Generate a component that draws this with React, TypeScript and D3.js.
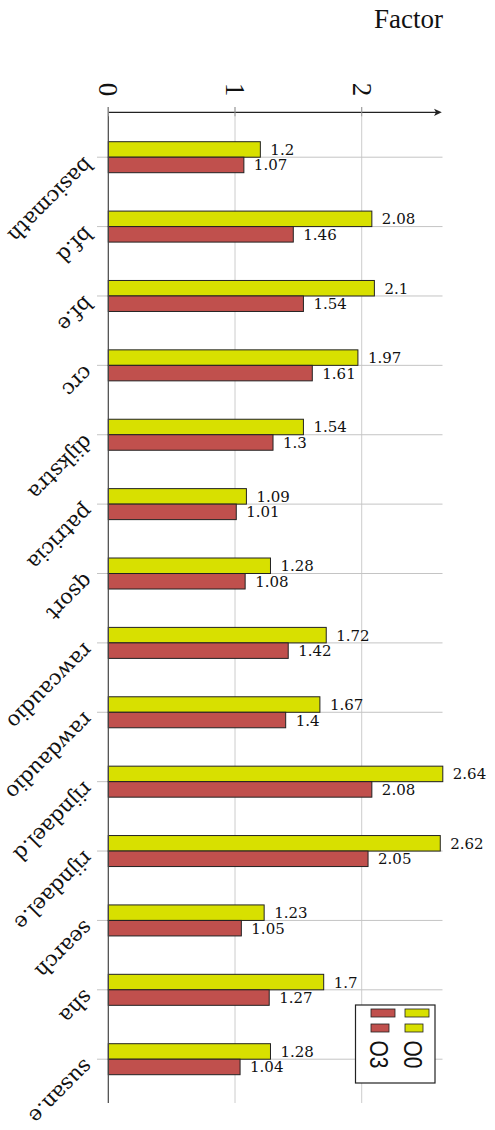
import React from "react";
import * as d3 from "d3";

const categories = ["basicmath", "bf.d", "bf.e", "crc", "dijkstra", "patricia", "qsort", "rawcaudio", "rawdaudio", "rijndael.d", "rijndael.e", "search", "sha", "susan.e"];
const o0Values = [1.2, 2.08, 2.1, 1.97, 1.54, 1.09, 1.28, 1.72, 1.67, 2.64, 2.62, 1.23, 1.7, 1.28];
const o3Values = [1.07, 1.46, 1.54, 1.61, 1.3, 1.01, 1.08, 1.42, 1.4, 2.08, 2.05, 1.05, 1.27, 1.04];
const xTicks = [0, 1, 2];
const seriesNames = ["O3", "O0"];
const seriesColors = ["#c0504d", "#d8e000"];

const W = 495;
const H = 1130;

export default function App() {
  const x = d3.scaleLinear().domain([0, 2.64]).range([108.3, 442.8]);
  const y = d3.scalePoint<string>().domain(categories).range([157.2, 1059.2]);
  const barH = 15.5;
  const x0 = x(0);
  const axisY = 112.3;
  const gridTop = 107;
  const bottom = 1103;
  const gridRight = 442.5;
  const fmt = (v: number) => String(v);

  return (
    <svg width={W} height={H} style={{ position: "absolute", left: 0, top: 0, display: "block", background: "#fff" }}>
      {/* title */}
      <text x={443} y={28} textAnchor="end" fontFamily="Liberation Serif" fontSize={27} fill="#111">Factor</text>

      {/* vertical grid lines */}
      {xTicks.filter(t => t > 0).map(t => (
        <line key={"vg" + t} x1={x(t)} x2={x(t)} y1={gridTop} y2={bottom} stroke="#cccccc" strokeWidth={1} />
      ))}
      {/* horizontal category grid lines */}
      {categories.map(c => (
        <line key={"hg" + c} x1={97} x2={gridRight} y1={y(c)!} y2={y(c)!} stroke="#c4c4c4" strokeWidth={1} />
      ))}

      {/* bars */}
      {categories.map((c, i) => {
        const cy = y(c)!;
        return (
          <g key={"b" + c}>
            <rect x={x0} y={cy - barH} width={x(o0Values[i]) - x0} height={barH} fill={seriesColors[1]} stroke="#222" strokeWidth={1} />
            <rect x={x0} y={cy} width={x(o3Values[i]) - x0} height={barH} fill={seriesColors[0]} stroke="#222" strokeWidth={1} />
            <text x={x(o0Values[i]) + 10} y={cy - barH / 2 + 5.5} fontFamily="DejaVu Serif" fontSize={15} fill="#111">{fmt(o0Values[i])}</text>
            <text x={x(o3Values[i]) + 10} y={cy + barH / 2 + 5.5} fontFamily="DejaVu Serif" fontSize={15} fill="#111">{fmt(o3Values[i])}</text>
          </g>
        );
      })}

      {/* y axis line */}
      <line x1={x0} x2={x0} y1={gridTop} y2={bottom} stroke="#444" strokeWidth={1.2} />
      {/* x axis with arrow */}
      <line x1={x0} x2={437} y1={axisY} y2={axisY} stroke="#222" strokeWidth={1.2} />
      <path d={`M441.8,${axisY} L434,${axisY - 3.6} L436,${axisY} L434,${axisY + 3.6} Z`} fill="#222" />
      {/* tick marks on axis */}
      {xTicks.map(t => (
        <line key={"tk" + t} x1={x(t)} x2={x(t)} y1={gridTop} y2={axisY + 4} stroke="#999" strokeWidth={1} />
      ))}

      {/* x tick labels (rotated) */}
      {xTicks.map(t => (
        <text key={"tl" + t} transform={`translate(${x(t) - 9.2},${89.5}) rotate(90)`} textAnchor="middle"
          fontFamily="Liberation Serif" fontSize={27} fill="#111">{t}</text>
      ))}

      {/* category labels (rotated) */}
      {categories.map(c => (
        <text key={"cl" + c} transform={`translate(${x0 - 24},${y(c)! - 1}) rotate(135)`} textAnchor="start"
          fontFamily="DejaVu Serif" fontSize={21} fill="#111">{c}</text>
      ))}

      {/* legend */}
      <rect x={355.5} y={1005} width={79.5} height={78} fill="#fff" stroke="#222" strokeWidth={1.2} />
      {seriesNames.map((s, i) => {
        const lx = 371 + i * 34;
        return (
          <g key={"lg" + s}>
            <rect x={lx} y={1009} width={24} height={8} fill={seriesColors[i]} stroke="#222" strokeWidth={0.8} />
            <rect x={lx} y={1024} width={18} height={8} fill={seriesColors[i]} stroke="#222" strokeWidth={0.8} />
            <text transform={`translate(${lx - 1},${1054.5}) rotate(90)`} textAnchor="middle"
              fontFamily="Liberation Sans" fontSize={26} textLength={28} lengthAdjust="spacingAndGlyphs" fill="#111">{s}</text>
          </g>
        );
      })}
    </svg>
  );
}
